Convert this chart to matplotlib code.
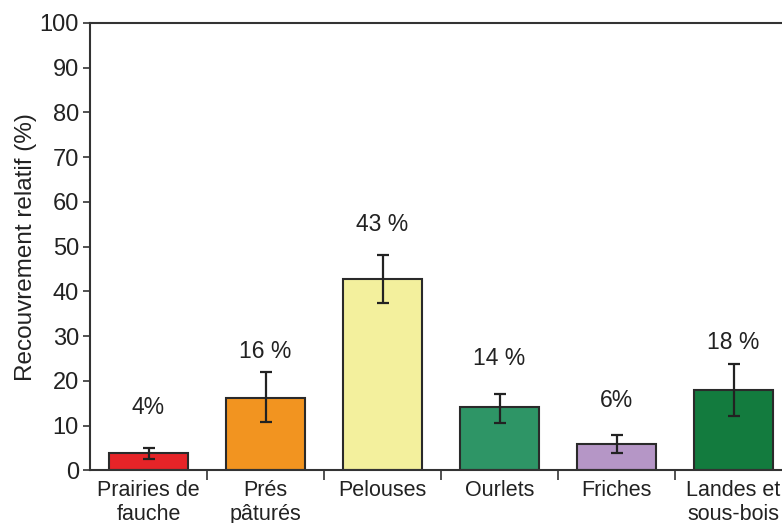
import matplotlib
matplotlib.use("Agg")
import matplotlib.pyplot as plt
import numpy as np

categories = ["Prairies de\nfauche", "Prés\npâturés", "Pelouses", "Ourlets", "Friches", "Landes et\nsous-bois"]
values = [3.9, 16.1, 42.8, 14.1, 5.8, 18.0]
err_low = [2.5, 10.7, 37.5, 10.6, 3.9, 12.1]
err_high = [4.9, 21.9, 48.2, 17.1, 7.8, 23.8]
labels = ["4%", "16 %", "43 %", "14 %", "6%", "18 %"]
label_y = [14.0, 26.5, 55.0, 25.0, 15.7, 28.5]
colors = ["#E62428", "#F29420", "#F3F09D", "#2E9566", "#B596C6", "#137B3E"]

plt.rcParams['font.family'] = ['Liberation Sans', 'DejaVu Sans']

fig = plt.figure(figsize=(7.82, 5.23), dpi=100)
ax = fig.add_axes([90/782, 52.7/523, 702/782, 447.3/523])

x = np.arange(len(categories))
vals = np.array(values)
yerr = np.array([vals - np.array(err_low), np.array(err_high) - vals])
ax.bar(x, vals, width=0.68, color=colors, edgecolor="#2a2a2a", linewidth=1.5, zorder=2)
ax.errorbar(x, vals, yerr=yerr, fmt="none", ecolor="#222222", elinewidth=1.6,
            capsize=4.5, capthick=1.6, zorder=3)
for xi, lab, ly in zip(x, labels, label_y):
    ax.text(xi, ly, lab, ha="center", va="center", fontsize=16.5, color="#222222")

ax.set_xlim(-0.5, len(categories) - 0.5)
ax.set_ylim(0, 100)
ax.set_yticks(np.arange(0, 101, 10))
ax.tick_params(axis="y", labelsize=17, length=5, width=1.2, color="#333333", pad=3, labelcolor="#222222")
ax.set_xticks(np.arange(len(categories) - 1) + 0.5, minor=False)
ax.set_xticklabels([])
ax.set_xticks(x, minor=True)
ax.set_xticklabels(categories, minor=True, fontsize=15.5, color="#222222")
ax.tick_params(axis="x", which="major", length=7, width=1.2, color="#333333")
ax.tick_params(axis="x", which="minor", length=0, pad=7)
ax.set_ylabel("Recouvrement relatif (%)", fontsize=17.5, color="#222222", labelpad=2)

for s in ["left", "bottom", "top", "right"]:
    ax.spines[s].set_color("#333333")
    ax.spines[s].set_linewidth(1.5)

fig.savefig("out.png", dpi=100)
